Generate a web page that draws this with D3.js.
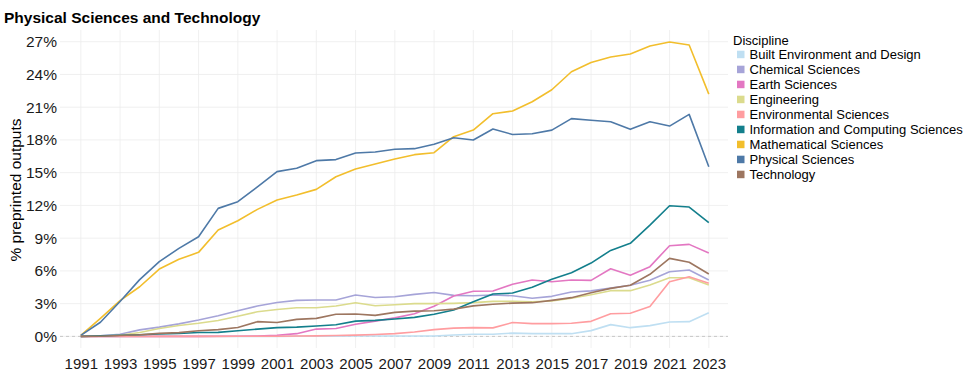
<!DOCTYPE html>
<html>
<head>
<meta charset="utf-8">
<script src="https://cdn.jsdelivr.net/npm/d3@7"></script>
<style>
  html, body { margin: 0; padding: 0; background: #fff; }
  svg { display: block; font-family: "Liberation Sans", Arial, sans-serif; }
</style>
</head>
<body>
<svg id="chart" width="968" height="379"></svg>
<script>
// ---- data ----
const years = d3.range(1991, 2024);
const tickYears = d3.range(1991, 2024, 2);
const yTicks = [0, 3, 6, 9, 12, 15, 18, 21, 24, 27];
const disciplines = [
  "Built Environment and Design",
  "Chemical Sciences",
  "Earth Sciences",
  "Engineering",
  "Environmental Sciences",
  "Information and Computing Sciences",
  "Mathematical Sciences",
  "Physical Sciences",
  "Technology"
];
const colors = ["#bfdff2", "#a6a4d8", "#e377c2", "#dbdb8d", "#ff9da0", "#137f8c", "#f2be2c", "#4e79a7", "#9d7660"];

const builtEnv = [0,0,0,0,0,0,0,0,0,0,0,0.01,0.02,0.02,0.03,0.03,0.03,0.04,0.04,0.13,0.2,0.2,0.3,0.25,0.25,0.25,0.53,1.08,0.8,0.99,1.32,1.35,2.17];
const chemical = [0,0.05,0.2,0.6,0.85,1.15,1.5,1.9,2.35,2.78,3.11,3.3,3.33,3.33,3.79,3.57,3.63,3.85,4.02,3.76,3.73,3.79,3.73,3.49,3.67,4.07,4.17,4.42,4.68,5.14,5.93,6.08,5.17];
const earth = [0,0,0,0,0,0,0,0.01,0.02,0.03,0.1,0.25,0.67,0.73,1.12,1.4,1.7,2.07,2.77,3.7,4.13,4.16,4.77,5.17,5.0,5.17,5.13,6.2,5.6,6.39,8.31,8.43,7.64];
const engineering = [0,0.03,0.1,0.35,0.73,1.0,1.2,1.45,1.85,2.26,2.47,2.63,2.63,2.78,3.08,2.81,2.9,3.0,3.0,3.03,3.09,3.21,3.21,3.18,3.24,3.49,3.82,4.19,4.19,4.71,5.38,5.38,4.71];
const environmental = [0,0,0,0,0,0,0,0,0.01,0.01,0.02,0.03,0.05,0.08,0.12,0.18,0.25,0.4,0.62,0.76,0.8,0.78,1.27,1.17,1.17,1.2,1.38,2.07,2.12,2.73,5.0,5.47,4.86];
const infoComputing = [0,0.05,0.1,0.15,0.22,0.27,0.36,0.37,0.52,0.67,0.8,0.85,0.95,1.07,1.4,1.47,1.6,1.74,2.03,2.42,3.18,3.89,3.97,4.5,5.23,5.84,6.72,7.88,8.53,10.2,11.97,11.85,10.42];
const mathematical = [0.1,1.65,3.27,4.55,6.17,7.06,7.7,9.75,10.6,11.64,12.5,12.95,13.47,14.63,15.33,15.8,16.25,16.65,16.83,18.3,18.9,20.4,20.65,21.5,22.6,24.25,25.1,25.6,25.87,26.6,26.97,26.7,22.2];
const physical = [0.1,1.3,3.2,5.2,6.85,8.07,9.13,11.73,12.34,13.7,15.1,15.4,16.1,16.2,16.8,16.9,17.15,17.2,17.6,18.2,18.0,19.0,18.5,18.57,18.9,19.95,19.8,19.67,18.97,19.67,19.27,20.34,15.55];
const technology = [0,0.02,0.08,0.15,0.28,0.35,0.52,0.62,0.82,1.35,1.28,1.56,1.65,2.03,2.05,1.93,2.2,2.32,2.35,2.5,2.8,2.95,3.05,3.09,3.3,3.55,4.0,4.4,4.68,5.69,7.15,6.79,5.72];

const seriesValues = [builtEnv, chemical, earth, engineering, environmental, infoComputing, mathematical, physical, technology];

// ---- layout ----
const svg = d3.select("#chart");
const panel = { left: 60, right: 728, top: 30, bottom: 348 };
const x = d3.scaleLinear().domain([1991, 2023]).range([80.8, 708.8]);
const y = d3.scaleLinear().domain([0, 27]).range([336.4, 41.7]);
const fontFam = "\"Liberation Sans\", Arial, sans-serif";

// title
svg.append("text")
  .attr("x", 4).attr("y", 23)
  .attr("font-size", 15.5).attr("font-weight", "bold").attr("fill", "#000")
  .text("Physical Sciences and Technology");

// gridlines
const grid = svg.append("g").attr("stroke", "#ececec").attr("stroke-width", 0.8);
grid.selectAll("line.v").data(tickYears).join("line")
  .attr("x1", d => x(d)).attr("x2", d => x(d))
  .attr("y1", panel.top).attr("y2", panel.bottom);
grid.selectAll("line.h").data(yTicks).join("line")
  .attr("x1", panel.left).attr("x2", panel.right)
  .attr("y1", d => y(d)).attr("y2", d => y(d));

// zero dashed line
svg.append("line")
  .attr("x1", panel.left).attr("x2", panel.right)
  .attr("y1", y(0)).attr("y2", y(0))
  .attr("stroke", "#c8c8c8").attr("stroke-width", 1)
  .attr("stroke-dasharray", "3,3");

// axes (labels only)
const xAxis = d3.axisBottom(x).tickValues(tickYears).tickFormat(d3.format("d")).tickSize(0).tickPadding(0);
const gx = svg.append("g").attr("transform", "translate(0,358.3)").call(xAxis);
gx.select(".domain").remove();
gx.selectAll("text").attr("font-size", 15).attr("fill", "#1a1a1a").attr("font-family", fontFam);

const yAxis = d3.axisLeft(y).tickValues(yTicks).tickFormat(d => d + "%").tickSize(0).tickPadding(0);
const gy = svg.append("g").attr("transform", "translate(57,0)").call(yAxis);
gy.select(".domain").remove();
gy.selectAll("text").attr("font-size", 15.5).attr("fill", "#1a1a1a").attr("font-family", fontFam);

// y axis title
svg.append("text")
  .attr("transform", "translate(21,190) rotate(-90)")
  .attr("text-anchor", "middle")
  .attr("font-size", 15.5).attr("fill", "#000")
  .text("% preprinted outputs");

// lines
const line = d3.line().x((d, i) => x(years[i])).y(d => y(d));
svg.append("g").selectAll("path").data(seriesValues).join("path")
  .attr("d", d => line(d))
  .attr("fill", "none")
  .attr("stroke", (d, i) => colors[i])
  .attr("stroke-width", 1.6)
  .attr("stroke-linejoin", "round");

// legend
const legend = svg.append("g");
legend.append("text")
  .attr("x", 733).attr("y", 44.5)
  .attr("font-size", 13).attr("fill", "#000")
  .text("Discipline");
const items = legend.selectAll("g.item").data(disciplines).join("g")
  .attr("transform", (d, i) => `translate(737,${54.3 + i * 15})`);
items.append("rect")
  .attr("x", 0).attr("y", -3.6).attr("width", 7.5).attr("height", 7.5)
  .attr("fill", (d, i) => colors[i]);
items.append("text")
  .attr("x", 12.5).attr("y", 4.7)
  .attr("font-size", 13).attr("fill", "#000")
  .text(d => d);
</script>
</body>
</html>
